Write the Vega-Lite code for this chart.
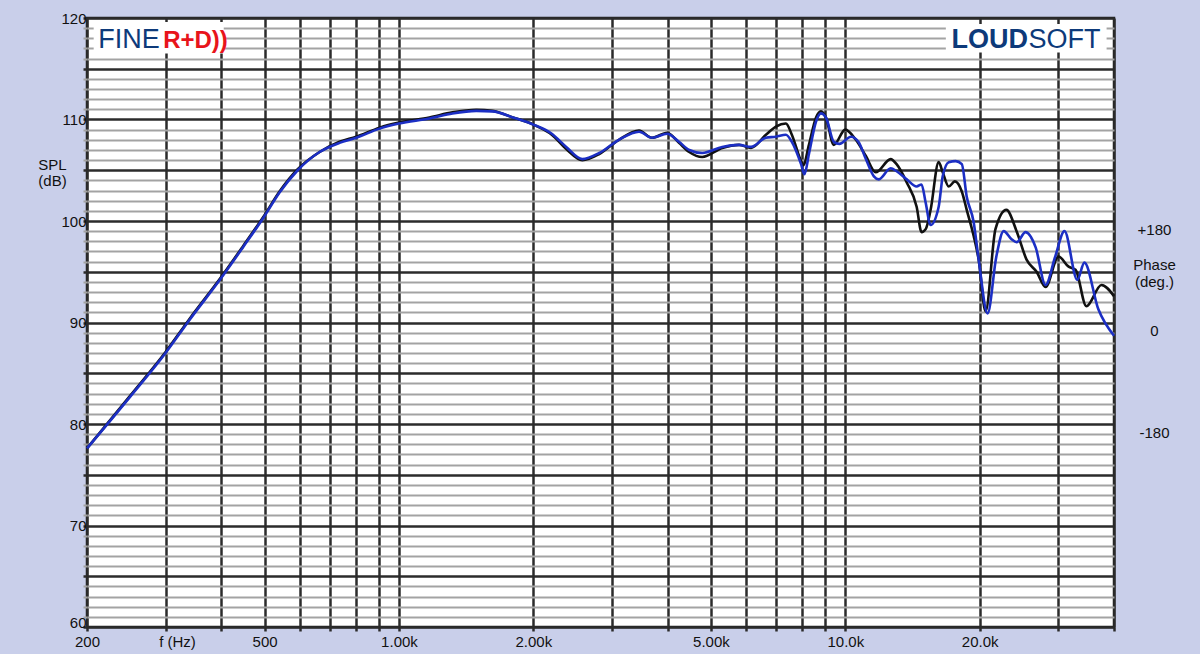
{
  "$schema": "https://vega.github.io/schema/vega-lite/v6.json",
  "width": 1027,
  "height": 609,
  "autosize": {"type": "none"},
  "padding": {"left": 87, "top": 18, "right": 86, "bottom": 27},
  "background": "#c9cfea",
  "config": {
    "view": {"fill": "#ffffff", "stroke": "#222222", "strokeWidth": 2.5},
    "axis": {"labelFont": "Liberation Sans", "titleFont": "Liberation Sans", "labelColor": "#111111", "titleColor": "#111111", "domain": false}
  },
  "datasets": {
    "boxes": [
      {"f": 207, "f2": 405, "db": 116.5, "db2": 119.6},
      {"f": 16800, "f2": 38500, "db": 116.6, "db2": 119.4}
    ],
    "logos": [
      {"label": "FINE", "f": 211.9, "db": 117.0},
      {"label": "R+D))", "f": 296.3, "db": 117.0},
      {"label": "LOUD", "f": 17290, "db": 117.0},
      {"label": "SOFT", "f": 25740, "db": 117.0}
    ],
    "curves": [
      {"series": "A", "f": 200, "db": 77.6}, {"series": "A", "f": 250, "db": 82.8}, {"series": "A", "f": 300, "db": 87.1},
      {"series": "A", "f": 340, "db": 90.4}, {"series": "A", "f": 400, "db": 94.5}, {"series": "A", "f": 447, "db": 97.5},
      {"series": "A", "f": 500, "db": 100.6}, {"series": "A", "f": 540, "db": 102.9}, {"series": "A", "f": 593, "db": 105.1},
      {"series": "A", "f": 664, "db": 106.8}, {"series": "A", "f": 736, "db": 107.8}, {"series": "A", "f": 802, "db": 108.3},
      {"series": "A", "f": 905, "db": 109.2}, {"series": "A", "f": 1000, "db": 109.7}, {"series": "A", "f": 1170, "db": 110.2},
      {"series": "A", "f": 1318, "db": 110.7}, {"series": "A", "f": 1490, "db": 110.95}, {"series": "A", "f": 1620, "db": 110.85},
      {"series": "A", "f": 1800, "db": 110.2}, {"series": "A", "f": 2000, "db": 109.5}, {"series": "A", "f": 2200, "db": 108.5},
      {"series": "A", "f": 2370, "db": 107.1}, {"series": "A", "f": 2575, "db": 106.0}, {"series": "A", "f": 2810, "db": 106.6},
      {"series": "A", "f": 3110, "db": 108.0}, {"series": "A", "f": 3450, "db": 108.9}, {"series": "A", "f": 3690, "db": 108.2},
      {"series": "A", "f": 3990, "db": 108.7}, {"series": "A", "f": 4240, "db": 107.7}, {"series": "A", "f": 4470, "db": 106.8},
      {"series": "A", "f": 4780, "db": 106.3}, {"series": "A", "f": 5300, "db": 107.2}, {"series": "A", "f": 5780, "db": 107.5},
      {"series": "A", "f": 6150, "db": 107.2}, {"series": "A", "f": 6640, "db": 108.5}, {"series": "A", "f": 6990, "db": 109.3},
      {"series": "A", "f": 7360, "db": 109.6}, {"series": "A", "f": 7590, "db": 108.5}, {"series": "A", "f": 7960, "db": 105.9},
      {"series": "A", "f": 8050, "db": 105.5}, {"series": "A", "f": 8290, "db": 107.5}, {"series": "A", "f": 8600, "db": 110.2},
      {"series": "A", "f": 8820, "db": 110.8}, {"series": "A", "f": 9050, "db": 110.2}, {"series": "A", "f": 9425, "db": 107.5},
      {"series": "A", "f": 10000, "db": 109.0}, {"series": "A", "f": 10560, "db": 108.0}, {"series": "A", "f": 11120, "db": 106.4},
      {"series": "A", "f": 11700, "db": 104.8}, {"series": "A", "f": 12640, "db": 106.1}, {"series": "A", "f": 13030, "db": 105.6},
      {"series": "A", "f": 13730, "db": 103.8}, {"series": "A", "f": 14450, "db": 101.4}, {"series": "A", "f": 14820, "db": 98.9},
      {"series": "A", "f": 15140, "db": 99.2}, {"series": "A", "f": 15530, "db": 101.1}, {"series": "A", "f": 16190, "db": 105.8},
      {"series": "A", "f": 16530, "db": 104.8}, {"series": "A", "f": 17050, "db": 103.4}, {"series": "A", "f": 17600, "db": 103.9},
      {"series": "A", "f": 18240, "db": 102.9}, {"series": "A", "f": 18710, "db": 101.1}, {"series": "A", "f": 19400, "db": 98.5},
      {"series": "A", "f": 19900, "db": 96.2}, {"series": "A", "f": 20620, "db": 91.1}, {"series": "A", "f": 21700, "db": 99.2},
      {"series": "A", "f": 22960, "db": 101.1}, {"series": "A", "f": 24200, "db": 99.0}, {"series": "A", "f": 25480, "db": 96.2},
      {"series": "A", "f": 26830, "db": 95.0}, {"series": "A", "f": 28100, "db": 93.5}, {"series": "A", "f": 30040, "db": 96.5},
      {"series": "A", "f": 31650, "db": 95.5}, {"series": "A", "f": 32800, "db": 95.2}, {"series": "A", "f": 34690, "db": 91.6},
      {"series": "A", "f": 37500, "db": 93.7}, {"series": "A", "f": 40000, "db": 92.6},

      {"series": "B", "f": 200, "db": 77.6}, {"series": "B", "f": 250, "db": 82.7}, {"series": "B", "f": 300, "db": 87.0},
      {"series": "B", "f": 340, "db": 90.3}, {"series": "B", "f": 400, "db": 94.4}, {"series": "B", "f": 447, "db": 97.4},
      {"series": "B", "f": 500, "db": 100.5}, {"series": "B", "f": 540, "db": 102.8}, {"series": "B", "f": 593, "db": 105.0},
      {"series": "B", "f": 664, "db": 106.8}, {"series": "B", "f": 736, "db": 107.7}, {"series": "B", "f": 802, "db": 108.2},
      {"series": "B", "f": 905, "db": 109.1}, {"series": "B", "f": 1000, "db": 109.6}, {"series": "B", "f": 1170, "db": 110.1},
      {"series": "B", "f": 1318, "db": 110.6}, {"series": "B", "f": 1490, "db": 110.85}, {"series": "B", "f": 1620, "db": 110.8},
      {"series": "B", "f": 1800, "db": 110.2}, {"series": "B", "f": 2000, "db": 109.5}, {"series": "B", "f": 2200, "db": 108.6},
      {"series": "B", "f": 2370, "db": 107.3}, {"series": "B", "f": 2575, "db": 106.1}, {"series": "B", "f": 2810, "db": 106.7},
      {"series": "B", "f": 3110, "db": 108.0}, {"series": "B", "f": 3450, "db": 108.8}, {"series": "B", "f": 3690, "db": 108.2},
      {"series": "B", "f": 3990, "db": 108.6}, {"series": "B", "f": 4240, "db": 107.8}, {"series": "B", "f": 4470, "db": 107.0},
      {"series": "B", "f": 4780, "db": 106.7}, {"series": "B", "f": 5300, "db": 107.3}, {"series": "B", "f": 5780, "db": 107.5},
      {"series": "B", "f": 6150, "db": 107.3}, {"series": "B", "f": 6640, "db": 108.2}, {"series": "B", "f": 6990, "db": 108.3},
      {"series": "B", "f": 7360, "db": 108.5}, {"series": "B", "f": 7590, "db": 107.8}, {"series": "B", "f": 7960, "db": 105.6},
      {"series": "B", "f": 8100, "db": 104.6}, {"series": "B", "f": 8290, "db": 106.6}, {"series": "B", "f": 8600, "db": 109.8},
      {"series": "B", "f": 8820, "db": 110.6}, {"series": "B", "f": 9050, "db": 110.2}, {"series": "B", "f": 9425, "db": 107.8},
      {"series": "B", "f": 9700, "db": 107.6}, {"series": "B", "f": 10300, "db": 108.3}, {"series": "B", "f": 10700, "db": 107.8},
      {"series": "B", "f": 11120, "db": 106.1}, {"series": "B", "f": 11590, "db": 104.4}, {"series": "B", "f": 11890, "db": 104.1},
      {"series": "B", "f": 12640, "db": 105.2}, {"series": "B", "f": 13030, "db": 104.9}, {"series": "B", "f": 13730, "db": 104.1},
      {"series": "B", "f": 14450, "db": 103.4}, {"series": "B", "f": 14820, "db": 103.6}, {"series": "B", "f": 15140, "db": 101.8},
      {"series": "B", "f": 15530, "db": 99.6}, {"series": "B", "f": 16190, "db": 101.4}, {"series": "B", "f": 16530, "db": 104.4},
      {"series": "B", "f": 17050, "db": 105.8}, {"series": "B", "f": 17680, "db": 105.9}, {"series": "B", "f": 18240, "db": 105.6},
      {"series": "B", "f": 18710, "db": 102.4}, {"series": "B", "f": 19390, "db": 99.9}, {"series": "B", "f": 19900, "db": 96.2},
      {"series": "B", "f": 20840, "db": 90.9}, {"series": "B", "f": 21800, "db": 96.5}, {"series": "B", "f": 22640, "db": 99.0},
      {"series": "B", "f": 23580, "db": 98.2}, {"series": "B", "f": 24200, "db": 97.9}, {"series": "B", "f": 25350, "db": 98.9},
      {"series": "B", "f": 26700, "db": 97.4}, {"series": "B", "f": 28100, "db": 93.7}, {"series": "B", "f": 29540, "db": 96.5},
      {"series": "B", "f": 30980, "db": 99.0}, {"series": "B", "f": 33100, "db": 94.2}, {"series": "B", "f": 34330, "db": 95.9},
      {"series": "B", "f": 36900, "db": 91.3}, {"series": "B", "f": 40000, "db": 88.7}
    ]
  },
  "encoding": {
    "x": {
      "field": "f", "type": "quantitative",
      "scale": {"type": "log", "domain": [200, 40000], "nice": false},
      "axis": {
        "values": [200, 300, 400, 500, 600, 700, 800, 900, 1000, 2000, 3000, 4000, 5000, 6000, 7000, 8000, 9000, 10000, 20000, 30000, 40000],
        "labelExpr": "datum.value==200?'200':datum.value==500?'500':datum.value==1000?'1.00k':datum.value==2000?'2.00k':datum.value==5000?'5.00k':datum.value==10000?'10.0k':datum.value==20000?'20.0k':''",
        "grid": true, "gridColor": "#2b2b2b", "gridWidth": 2.5,
        "tickColor": "#2b2b2b", "tickWidth": 2.5, "tickSize": 4,
        "labelPadding": 3, "labelFontSize": 15, "labelFlush": false, "labelOverlap": false,
        "title": "f (Hz)", "titleX": 90, "titleY": 7, "titleBaseline": "top", "titleAlign": "center",
        "titleFontSize": 15, "titleFontWeight": "normal"
      }
    },
    "y": {
      "field": "db", "type": "quantitative",
      "scale": {"domain": [60, 120], "nice": false, "zero": false},
      "axis": {
        "values": [60,61,62,63,64,65,66,67,68,69,70,71,72,73,74,75,76,77,78,79,80,81,82,83,84,85,86,87,88,89,90,91,92,93,94,95,96,97,98,99,100,101,102,103,104,105,106,107,108,109,110,111,112,113,114,115,116,117,118,119,120],
        "labelExpr": "datum.value % 10 === 0 ? '' + datum.value : ''",
        "grid": true,
        "gridColor": {"condition": {"test": "datum.value % 5 === 0", "value": "#2b2b2b"}, "value": "#a3a3a3"},
        "gridWidth": {"condition": {"test": "datum.value % 5 === 0", "value": 2.5}, "value": 2},
        "tickColor": {"condition": {"test": "datum.value % 5 === 0", "value": "#2b2b2b"}, "value": "#a3a3a3"},
        "tickWidth": {"condition": {"test": "datum.value % 5 === 0", "value": 2.5}, "value": 2},
        "labelBaseline": {"condition": {"test": "datum.value === 60", "value": "alphabetic"}, "value": "middle"},
        "tickSize": 4, "labelPadding": -3, "labelFontSize": 15, "labelOverlap": false,
        "title": ["SPL", "(dB)"], "titleAngle": 0, "titleX": -35, "titleY": 146,
        "titleAlign": "center", "titleBaseline": "middle", "titleFontSize": 15, "titleFontWeight": "normal", "titleLineHeight": 16
      }
    }
  },
  "layer": [
    {
      "layer": [
        {
          "data": {"name": "boxes"},
          "mark": {"type": "rect", "fill": "#ffffff"},
          "encoding": {"x2": {"field": "f2"}, "y2": {"field": "db2"}}
        },
        {
          "data": {"name": "logos"},
          "transform": [{"filter": "datum.label === 'FINE' || datum.label === 'SOFT'"}],
          "mark": {"type": "text", "align": "left", "baseline": "alphabetic", "font": "Liberation Sans", "fontSize": 27, "color": "#0d3a7a"},
          "encoding": {"text": {"field": "label"}}
        },
        {
          "data": {"name": "logos"},
          "transform": [{"filter": "datum.label === 'LOUD'"}],
          "mark": {"type": "text", "align": "left", "baseline": "alphabetic", "font": "Liberation Sans", "fontSize": 27, "fontWeight": "bold", "color": "#0d3a7a"},
          "encoding": {"text": {"field": "label"}}
        },
        {
          "data": {"name": "logos"},
          "transform": [{"filter": "datum.label === 'R+D))'"}],
          "mark": {"type": "text", "align": "left", "baseline": "alphabetic", "font": "Liberation Sans", "fontSize": 24, "fontWeight": "bold", "color": "#e8141b"},
          "encoding": {"text": {"field": "label"}}
        },
        {
          "data": {"name": "curves"},
          "transform": [{"filter": "datum.series === 'A'"}],
          "mark": {"type": "line", "color": "#111111", "strokeWidth": 2.6, "interpolate": "monotone"}
        }
      ]
    },
    {
      "data": {"name": "curves"},
      "transform": [{"filter": "datum.series === 'B'"}],
      "mark": {"type": "line", "color": "#1c2fc4", "strokeWidth": 2.6, "interpolate": "monotone"},
      "encoding": {
        "y": {
          "field": "db", "type": "quantitative",
          "scale": {"domain": [60, 120], "nice": false, "zero": false},
          "axis": {
            "orient": "right", "values": [80, 90, 100],
            "labelExpr": "datum.value == 100 ? '+180' : datum.value == 90 ? '0' : '-180'",
            "grid": false, "ticks": false, "tickSize": 0,
            "labelPadding": 40, "labelAlign": "center", "labelOffset": 8, "labelFontSize": 15,
            "title": ["Phase", "(deg.)"], "titleAngle": 0, "titleX": 40, "titleY": 246,
            "titleAlign": "center", "titleBaseline": "middle", "titleFontSize": 15, "titleFontWeight": "normal", "titleLineHeight": 17
          }
        }
      }
    }
  ],
  "resolve": {"axis": {"y": "independent"}}
}
